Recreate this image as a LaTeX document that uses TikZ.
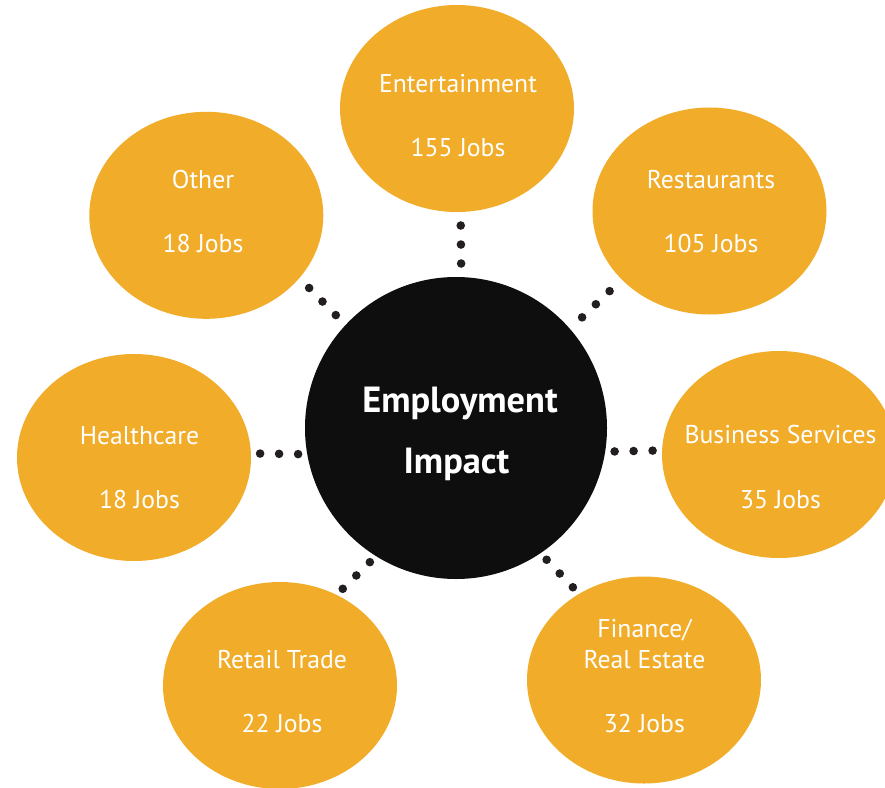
\documentclass[tikz,border=0pt]{standalone}
\usepackage{fontspec}
\setmainfont{PT Sans}
\usetikzlibrary{shapes.geometric,decorations.markings}
\definecolor{bubblefill}{RGB}{241,172,42}
\definecolor{hubfill}{RGB}{14,14,14}
\definecolor{dotfill}{RGB}{35,31,32}
\tikzset{
  bubble/.style={ellipse, fill=bubblefill, draw=none, minimum width=234bp, minimum height=207bp, inner sep=0pt},
  hub/.style={circle, fill=hubfill, draw=none, minimum size=302bp, inner sep=0pt},
  lbl/.style={anchor=base, text=white, font=\fontsize{25.8}{30}\selectfont, inner sep=0pt},
  hublbl/.style={anchor=base, text=white, font=\bfseries\fontsize{36.5}{40}\selectfont, inner sep=0pt},
  dotline/.style={postaction={decorate}, decoration={markings, mark=at position 0.5 with {\fill[dotfill] (-19bp,0) circle (4.3bp) (0,0) circle (4.3bp) (19bp,0) circle (4.3bp);}}}
}
\begin{document}
\begin{tikzpicture}[x=1bp,y=-1bp]
\useasboundingbox (0,0) rectangle (885,788);
% hub
\node[hub] (c) at (456,428) {};
% bubbles
\node[bubble] (ent) at (457,108.5) {};
\node[bubble] (oth) at (206.3,215.3) {};
\node[bubble] (res) at (709.5,211) {};
\node[bubble] (hea) at (134,457.5) {};
\node[bubble] (bus) at (779,454.5) {};
\node[bubble] (ret) at (280,685.5) {};
\node[bubble] (fin) at (644,680) {};
% connectors
\path[dotline] (c.88.5) -- (ent.-88.3);
\path[dotline] (c.137.4) -- (oth.-34.8);
\path[dotline] (c.41.0) -- (res.-142.8);
\path[dotline] (c.-170.9) -- (hea.2.7);
\path[dotline] (c.-9.1) -- (bus.178.8);
\path[dotline] (c.-122.3) -- (ret.58.2);
\path[dotline] (c.-56.9) -- (fin.127.5);
% labels
\node[hublbl] (hub1) at (460,412) {Employment};
\node[hublbl] (hub2) at (456.5,473) {Impact};
\node[lbl] (ent1) at (458,92) {Entertainment};
\node[lbl] (ent2) at (458,156) {155 Jobs};
\node[lbl] (oth1) at (203,188) {Other};
\node[lbl] (oth2) at (203,252) {18 Jobs};
\node[lbl] (res1) at (711,188) {Restaurants};
\node[lbl] (res2) at (711,252) {105 Jobs};
\node[lbl] (hea1) at (139.5,444) {Healthcare};
\node[lbl] (hea2) at (139.5,508) {18 Jobs};
\node[lbl] (bus1) at (780.5,443.5) {Business Services};
\node[lbl] (bus2) at (780.5,508) {35 Jobs};
\node[lbl] (ret1) at (282,668) {Retail Trade};
\node[lbl] (ret2) at (282,732) {22 Jobs};
\node[lbl] (fin1) at (644.4,637) {Finance/};
\node[lbl] (fin2) at (644.4,668) {Real Estate};
\node[lbl] (fin3) at (644.4,732) {32 Jobs};
\end{tikzpicture}
\end{document}
